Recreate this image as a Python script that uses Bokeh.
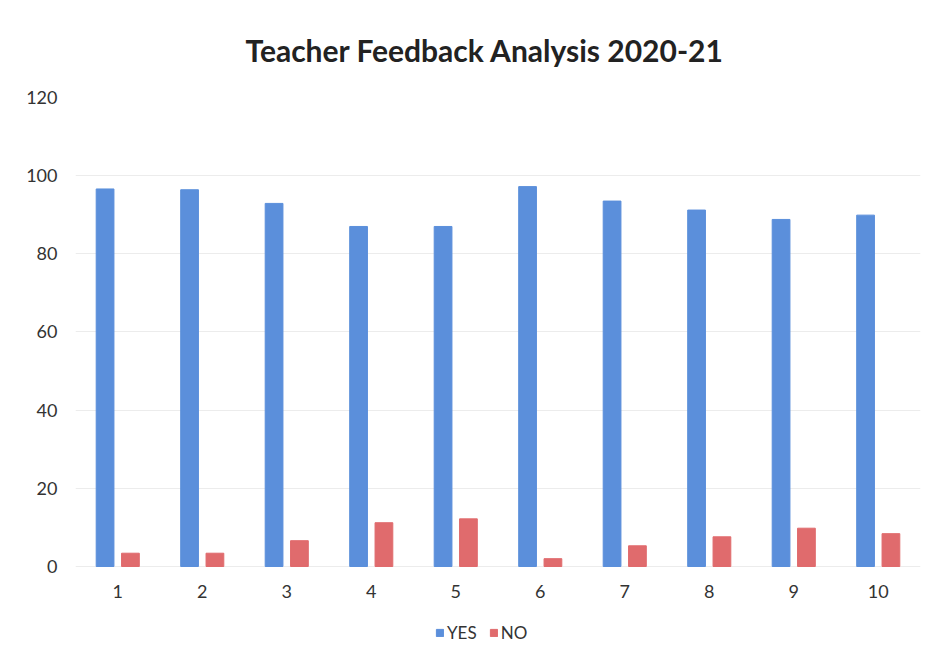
from bokeh.plotting import figure
from bokeh.models import ColumnDataSource, Legend, LegendItem, FixedTicker
from bokeh.transform import dodge
from bokeh.embed import file_html
from bokeh.resources import INLINE

categories = [1, 2, 3, 4, 5, 6, 7, 8, 9, 10]
yes_values = [96.6, 96.4, 92.9, 87.0, 87.0, 97.2, 93.5, 91.2, 88.8, 89.9]
no_values = [3.4, 3.4, 6.6, 11.2, 12.2, 2.0, 5.3, 7.6, 9.8, 8.4]
y_ticks = [0, 20, 40, 60, 80, 100, 120]

FONT = "Lato"
BLUE = "#5b8fdb"
RED = "#e06b6d"

src = ColumnDataSource(dict(x=categories, yes=yes_values, no=no_values))

# frame extends below zero to make room for the legend (same px per unit)
p = figure(frame_width=845, frame_height=549, x_range=(0.5, 10.5), y_range=(-20.47, 120),
           output_backend="svg", toolbar_location=None,
           title="Teacher Feedback Analysis 2020-21")
p.min_border_left = 75
p.min_border_right = 8
p.min_border_top = 96
p.min_border_bottom = 0
p.outline_line_color = None

p.title.align = "left"
p.title.offset = 170
p.title.text_font = FONT
p.title.text_font_size = "30px"
p.title.text_font_style = "bold"
p.title.text_color = "#222222"
p.title.standoff = 59

r_yes = p.vbar(x=dodge("x", -0.15, range=p.x_range), top="yes", width=0.21,
               source=src, color=BLUE)
r_no = p.vbar(x=dodge("x", 0.15, range=p.x_range), top="no", width=0.21,
              source=src, color=RED)

p.xaxis.ticker = FixedTicker(ticks=categories)
p.xaxis.fixed_location = 0
p.yaxis.ticker = FixedTicker(ticks=y_ticks)
for ax in (p.xaxis[0], p.yaxis[0]):
    ax.axis_line_color = None
    ax.major_tick_line_color = None
    ax.minor_tick_line_color = None
    ax.major_tick_out = 0
    ax.major_tick_in = 0
    ax.major_label_text_font = FONT
    ax.major_label_text_font_size = "18px"
    ax.major_label_text_color = "#333333"
p.xaxis.major_label_standoff = 19
p.yaxis.major_label_standoff = 18

p.xgrid.grid_line_color = None
p.ygrid.grid_line_color = "#ececec"

legend = Legend(items=[LegendItem(label="YES", renderers=[r_yes]),
                       LegendItem(label="NO", renderers=[r_no])],
                orientation="horizontal", location=(360, 3),
                label_text_font=FONT, label_text_font_size="17px",
                label_text_color="#333333",
                glyph_width=9, glyph_height=9, spacing=12,
                label_standoff=3, border_line_color=None,
                background_fill_alpha=0, margin=0, padding=0)
p.add_layout(legend, "center")

open("out.html", "w").write(file_html(p, INLINE))
